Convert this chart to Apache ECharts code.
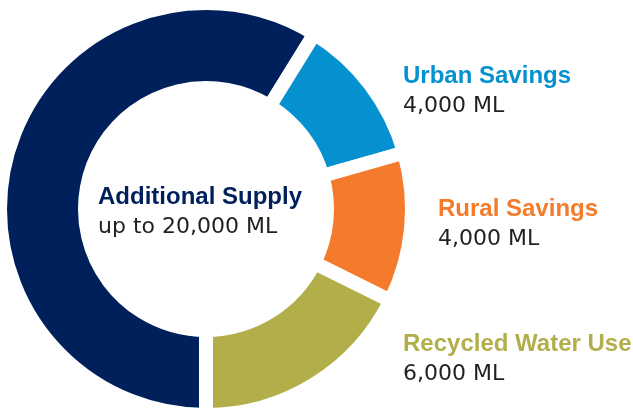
<!DOCTYPE html>
<html>
<head>
<meta charset="utf-8">
<script src="https://cdn.jsdelivr.net/npm/echarts@6/dist/echarts.min.js"></script>
<style>
html,body{margin:0;padding:0;background:#fff;}
#chart{width:633px;height:410px;}
</style>
</head>
<body>
<div id="chart"></div>
<script>
// Data
var categories = ['Additional Supply', 'Urban Savings', 'Rural Savings', 'Recycled Water Use'];
var values = [20000, 4000, 4000, 6000];
var valueLabels = ['up to 20,000 ML', '4,000 ML', '4,000 ML', '6,000 ML'];
var colors = ['#00205b', '#0591d0', '#f47b2b', '#b2af4b'];

// label placement (left x, baseline y for title line)
var labelPos = [[98, 205], [403, 84], [438, 217], [403, 352]];

var chart = echarts.init(document.getElementById('chart'), null, {renderer: 'canvas'});

var graphics = [];
categories.forEach(function (name, i) {
  graphics.push({
    type: 'text', left: labelPos[i][0], top: labelPos[i][1] - 24 * 0.905 + 2,
    style: {text: name, font: 'bold 24px "Liberation Sans"', fill: colors[i]}
  });
  graphics.push({
    type: 'text', left: labelPos[i][0], top: labelPos[i][1] + 30 - 22 * 0.93 + 2,
    style: {text: valueLabels[i], font: '22px "DejaVu Sans"', fill: '#231f20'}
  });
});

chart.setOption({
  animation: false,
  backgroundColor: '#ffffff',
  graphic: graphics,
  series: [{
    type: 'pie',
    center: [206, 209],
    radius: [121, 206],
    startAngle: -90,
    clockwise: true,
    label: {show: false},
    labelLine: {show: false},
    emphasis: {disabled: true},
    itemStyle: {borderColor: '#ffffff', borderWidth: 14},
    data: categories.map(function (n, i) {
      return {name: n, value: values[i], itemStyle: {color: colors[i]}};
    })
  }]
});
</script>
</body>
</html>
